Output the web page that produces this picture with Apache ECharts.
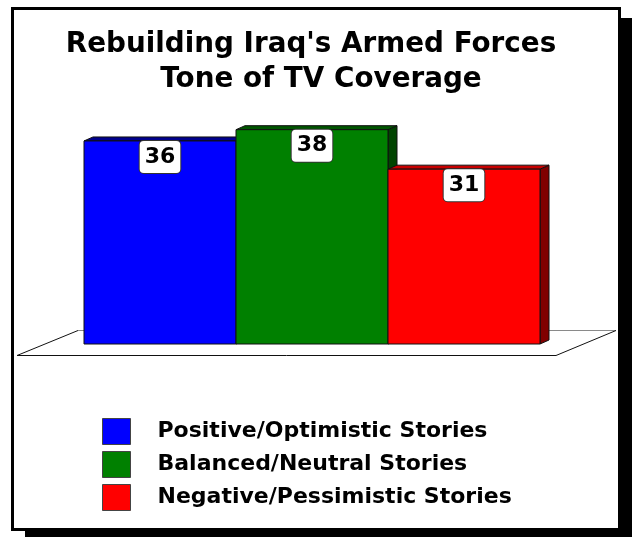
<!DOCTYPE html>
<html>
<head>
<meta charset="utf-8">
<style>
  html, body { margin: 0; padding: 0; background: #fff; }
  #chart { width: 632px; height: 537px; }
</style>
<script src="https://cdn.jsdelivr.net/npm/echarts@6/dist/echarts.min.js"></script>
</head>
<body>
<div id="chart"></div>
<script>
// Tone of TV coverage, share of stories (%)
const categories = ['Positive/Optimistic Stories', 'Balanced/Neutral Stories', 'Negative/Pessimistic Stories'];
const values = [36, 38, 31];
const frontColors = ['#0000ff', '#008000', '#ff0000'];
const topColors = ['#00008c', '#005400', '#c80000'];
const sideColors = ['#000070', '#004400', '#800000'];

const FONT = 'DejaVu Sans, Verdana, sans-serif';
const DEPTH_X = 9, DEPTH_Y = -4;

// A box bar: front face, top face, right side face and a value tag
function renderBox(params, api) {
  const i = params.seriesIndex;
  const v = api.value(1);
  const top = api.coord([api.value(0), v]);
  const base = api.coord([api.value(0), 0]);
  const w = api.size([1, 0])[0];
  const x0 = top[0] - w / 2, x1 = top[0] + w / 2;
  const yt = top[1], yb = base[1];
  const edge = { stroke: '#111', lineWidth: 1 };
  return {
    type: 'group',
    children: [
      { type: 'polygon', shape: { points: [[x1, yt], [x1 + DEPTH_X, yt + DEPTH_Y], [x1 + DEPTH_X, yb + DEPTH_Y], [x1, yb]] },
        style: Object.assign({ fill: sideColors[i] }, edge) },
      { type: 'polygon', shape: { points: [[x0, yt], [x1, yt], [x1 + DEPTH_X, yt + DEPTH_Y], [x0 + DEPTH_X, yt + DEPTH_Y]] },
        style: Object.assign({ fill: topColors[i] }, edge) },
      { type: 'rect', shape: { x: x0, y: yt, width: w, height: yb - yt },
        style: Object.assign({ fill: frontColors[i] }, edge) },
      { type: 'text', x: top[0], y: yt,
        style: { text: String(v), align: 'center', verticalAlign: 'top',
          fontFamily: FONT, fontWeight: 'bold', fontSize: 22, lineHeight: 22, fill: '#000',
          backgroundColor: '#fff', borderColor: '#333', borderWidth: 1, borderRadius: 4,
          padding: [5, 5] } }
    ]
  };
}

const series = categories.map((name, i) => ({
  name: name,
  type: 'custom',
  renderItem: renderBox,
  itemStyle: { color: frontColors[i] },
  encode: { x: 0, y: 1 },
  data: [[i, values[i]]],
  z: 2 + i
}));

const chart = echarts.init(document.getElementById('chart'), null, { renderer: 'canvas' });
chart.setOption({
  animation: false,
  backgroundColor: '#fff',
  title: [
    { text: "Rebuilding Iraq's Armed Forces", left: 306, top: 26, textAlign: 'center',
      textStyle: { fontFamily: FONT, fontWeight: 'bold', fontSize: 27.8, color: '#000' } },
    { text: 'Tone of TV Coverage', left: 316, top: 61, textAlign: 'center',
      textStyle: { fontFamily: FONT, fontWeight: 'bold', fontSize: 27.8, color: '#000' } }
  ],
  grid: { left: 84, right: 92, top: 118.4, bottom: 193 },
  xAxis: { type: 'category', data: [0, 1, 2], show: false, boundaryGap: true },
  yAxis: { type: 'value', min: 0, max: 40, interval: 10, show: false },
  legend: {
    orient: 'vertical', left: 102, top: 418, padding: 0,
    icon: 'rect', itemWidth: 28, itemHeight: 26, itemGap: 6,
    itemStyle: { borderColor: '#444', borderWidth: 1 },
    textStyle: { fontFamily: FONT, fontWeight: 'bold', fontSize: 22, lineHeight: 22, color: '#000', padding: [0, 0, 0, 22] },
    selectedMode: false,
    data: categories
  },
  graphic: [
    // drop shadow and border of the panel
    { type: 'rect', z: -20, silent: true, shape: { x: 25, y: 18, width: 607, height: 519 }, style: { fill: '#000' } },
    { type: 'rect', z: -19, silent: true, shape: { x: 12.5, y: 8.5, width: 607, height: 521 },
      style: { fill: '#fff', stroke: '#000', lineWidth: 3 } },
    // floor plane under the bars
    { type: 'polygon', z: -18, silent: true, shape: { points: [[17, 355], [556, 355], [616, 330], [78, 330]] },
      style: { fill: '#fff' } },
    { type: 'polyline', z: -17, silent: true, shape: { points: [[78, 330.5], [616, 330.5]] },
      style: { stroke: '#8a8a8a', lineWidth: 1 } },
    { type: 'polyline', z: -17, silent: true, shape: { points: [[78, 330.5], [17, 355.5], [556, 355.5], [616, 330.5]] },
      style: { stroke: '#111', lineWidth: 1, fill: null } }
  ],
  series: series
});
</script>
</body>
</html>
